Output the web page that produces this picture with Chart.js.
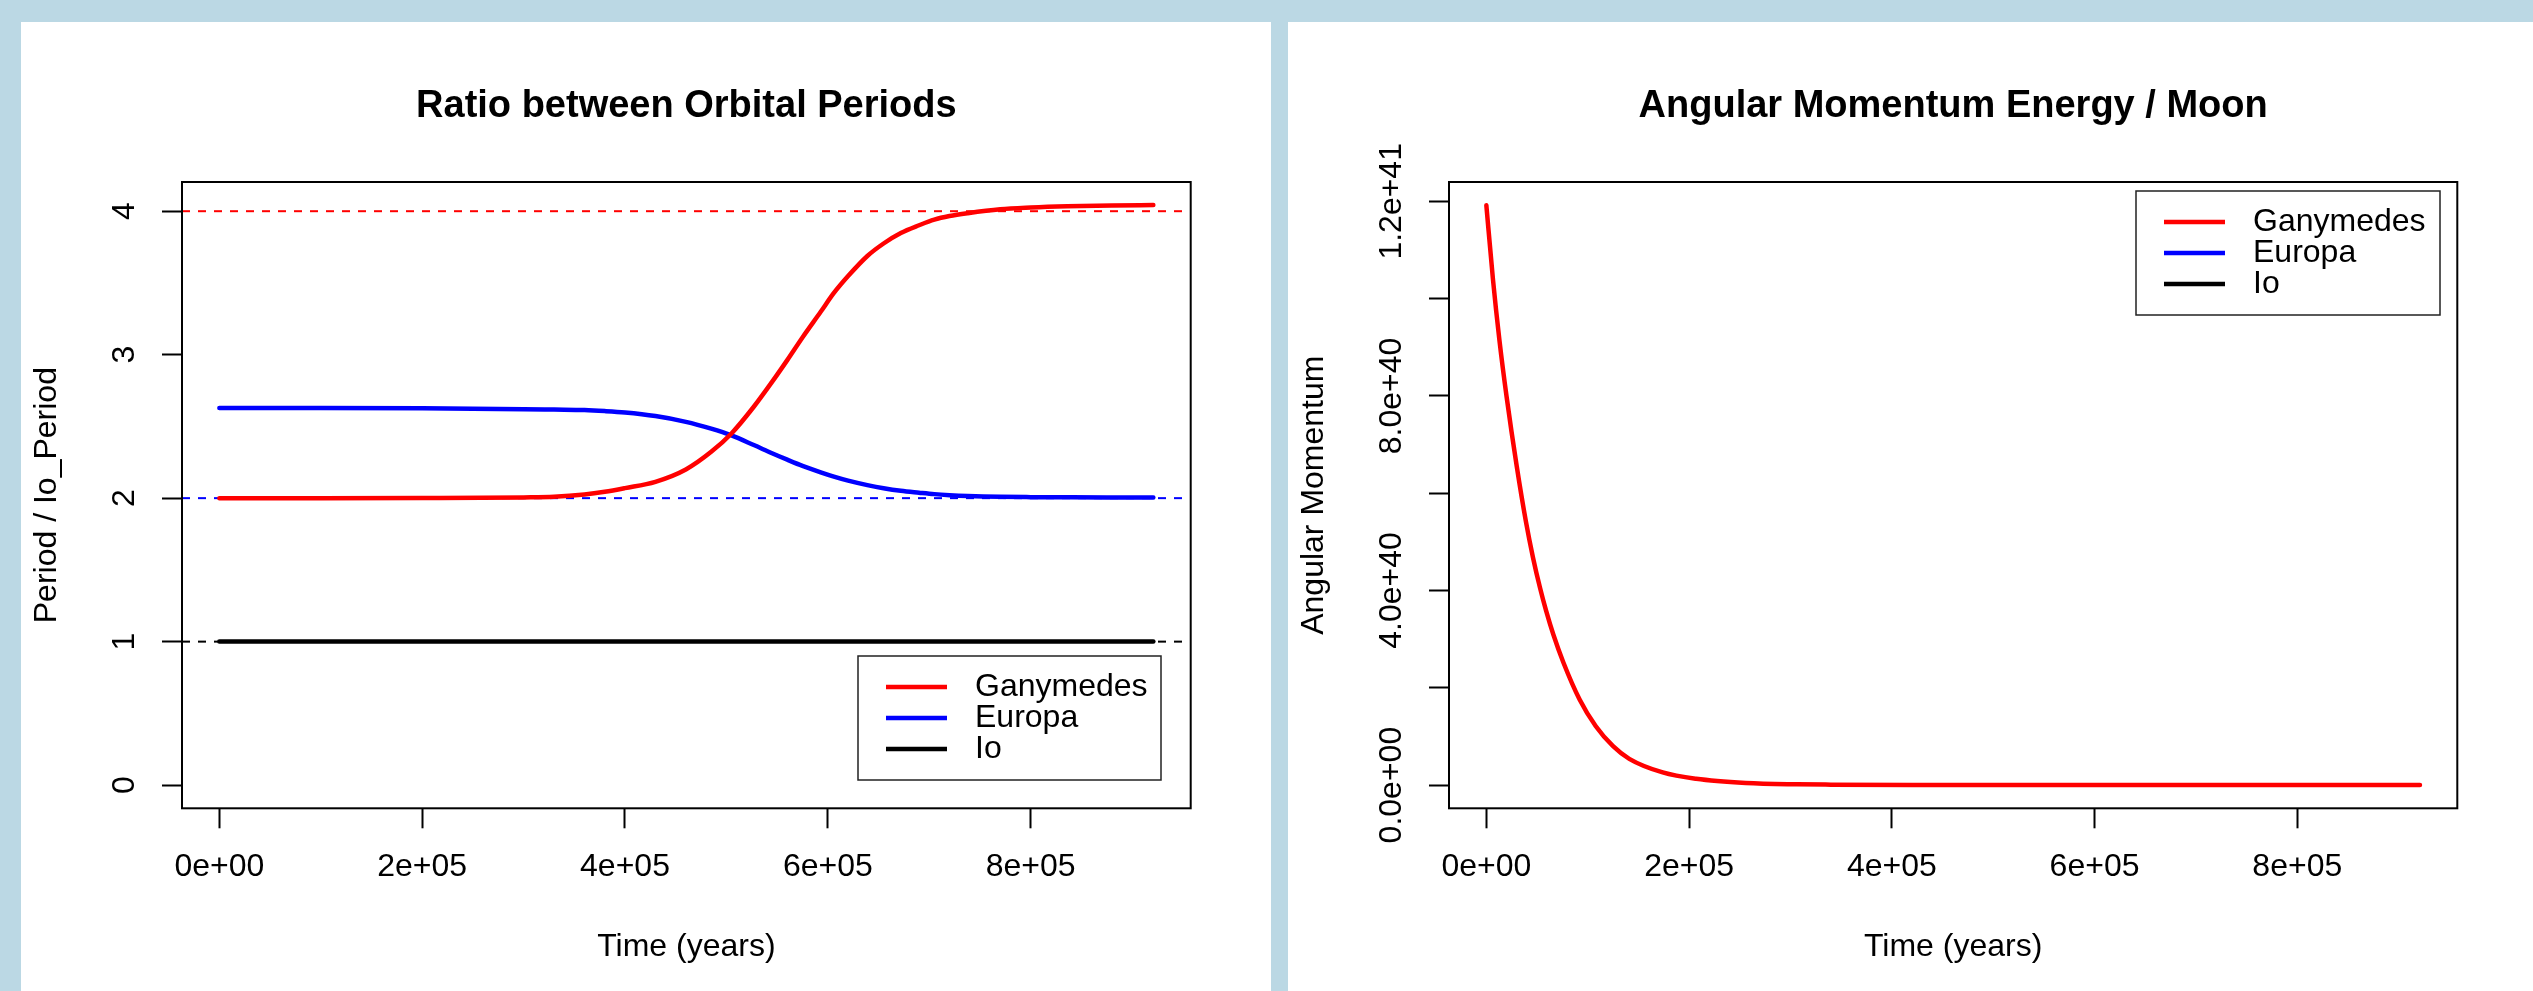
<!DOCTYPE html>
<html>
<head>
<meta charset="utf-8">
<title>Orbital periods</title>
<script src="https://cdn.jsdelivr.net/npm/chart.js@4.4.1/dist/chart.umd.min.js"></script>
<style>
  html, body { margin: 0; padding: 0; background: #bbd8e4; width: 2533px; height: 991px; overflow: hidden; }
  .panel { position: absolute; top: 22px; height: 969px; background: #fff; }
  #left { left: 21px; width: 1250px; }
  #right { left: 1288px; width: 1245px; }
  canvas { display: block; }
</style>
</head>
<body>
<div class="panel" id="left"><canvas id="ratioChart" width="1250" height="969"></canvas></div>
<div class="panel" id="right"><canvas id="momentumChart" width="1245" height="969"></canvas></div>
<script>
// moons, in legend order
const moonNames = ['Ganymedes', 'Europa', 'Io'];
const moonColors = ['#ff0000', '#0000ff', '#000000'];

// time axis (years)
const timeTicks = [0, 200000, 400000, 600000, 800000];
const timeTickLabels = ['0e+00', '2e+05', '4e+05', '6e+05', '8e+05'];

// period ratios relative to Io
const ratioTime = [0, 100000, 200000, 300000, 330000, 360000, 380000, 400000, 430000, 460000,
  485000, 505000, 527000, 545000, 560000, 575000, 593000, 606000, 620000, 639000,
  655000, 672000, 690000, 705000, 720000, 738000, 770000, 800000, 836000, 880000, 921000];
const ganymedeRatio = [2.000, 2.000, 2.001, 2.005, 2.009, 2.025, 2.044, 2.070, 2.114, 2.200,
  2.323, 2.451, 2.637, 2.810, 2.962, 3.120, 3.299, 3.430, 3.548, 3.688,
  3.775, 3.848, 3.902, 3.941, 3.966, 3.986, 4.013, 4.025, 4.034, 4.040, 4.043];
const europaRatio = [2.628, 2.628, 2.626, 2.620, 2.617, 2.614, 2.607, 2.597, 2.572, 2.532,
  2.484, 2.437, 2.370, 2.313, 2.268, 2.225, 2.180, 2.150, 2.122, 2.091,
  2.069, 2.051, 2.038, 2.028, 2.021, 2.015, 2.009, 2.007, 2.006, 2.005, 2.005];
const ioTime = [0, 921000];
const ioRatio = [1, 1];
const ratioTicks = [0, 1, 2, 3, 4];
const ratioTickLabels = ['0', '1', '2', '3', '4'];
// resonance levels 4:2:1
const ratioLevels = [4, 2, 1];

// angular momentum of Ganymedes
const momentumTime = [0, 6500, 13000, 20000, 30000, 39000, 46000, 53000, 59000, 66000,
  76000, 92000, 108000, 125000, 141000, 174000, 207000, 256000, 306000, 340000,
  420000, 500000, 600000, 700000, 800000, 921000];
const ganymedeMomentum = [1.192e41, 1.040e41, 9.13e40, 7.98e40, 6.55e40, 5.42e40, 4.68e40, 4.05e40, 3.58e40, 3.10e40,
  2.52e40, 1.76e40, 1.21e40, 8.0e39, 5.4e39, 2.6e39, 1.3e39, 4.5e38, 1.6e38, 9.0e37,
  3e37, 1e37, 5e36, 2e36, 1e36, 5e35];
const momentumTicks = [0, 2e40, 4e40, 6e40, 8e40, 1e41, 1.2e41];
const momentumTickLabels = ['0.0e+00', '', '4.0e+40', '', '8.0e+40', '', '1.2e+41'];

const FONT = '"Liberation Sans", Arial, Helvetica, sans-serif';

const toPoints = (xs, ys) => xs.map((x, i) => ({ x: x, y: ys[i] }));

const lineSet = (label, color, xs, ys) => ({
    label: label,
    data: toPoints(xs, ys),
    borderColor: color,
    borderWidth: 4.5,
    pointRadius: 0,
    fill: false,
    cubicInterpolationMode: 'monotone',
    borderCapStyle: 'round',
    borderJoinStyle: 'round'
});

// dashed horizontal guides drawn under the curves
const levelLines = {
    id: 'levelLines',
    beforeDatasetsDraw(chart, args, opts) {
        if (!opts.levels) return;
        const { ctx, chartArea: a, scales: { y } } = chart;
        ctx.save();
        ctx.lineWidth = 2;
        ctx.setLineDash([8, 8]);
        opts.levels.forEach((v, i) => {
            const py = y.getPixelForValue(v);
            ctx.strokeStyle = opts.colors[i];
            ctx.beginPath();
            ctx.moveTo(a.left, py);
            ctx.lineTo(a.right, py);
            ctx.stroke();
        });
        ctx.restore();
    }
};

// box, titles, rotated y labels and legend in base-graphics style
const plotFrame = {
    id: 'plotFrame',
    afterDraw(chart, args, opts) {
        const { ctx, chartArea: a, scales: { y } } = chart;
        ctx.save();
        ctx.strokeStyle = '#000';
        ctx.lineWidth = 2;
        ctx.strokeRect(a.left, a.top, a.right - a.left, a.bottom - a.top);

        ctx.fillStyle = '#000';
        ctx.textAlign = 'center';
        ctx.textBaseline = 'alphabetic';
        const cx = (a.left + a.right) / 2;
        ctx.font = 'bold 38px ' + FONT;
        ctx.fillText(opts.title, cx, a.top - 65);
        ctx.font = '32px ' + FONT;
        ctx.fillText(opts.xTitle, cx, a.bottom + 148);

        ctx.save();
        ctx.translate(a.left - 126, (a.top + a.bottom) / 2);
        ctx.rotate(-Math.PI / 2);
        ctx.fillText(opts.yTitle, 0, 0);
        ctx.restore();

        ctx.textBaseline = 'middle';
        y.ticks.forEach((t, i) => {
            const label = opts.yLabels[i];
            if (!label) return;
            ctx.save();
            ctx.translate(a.left - 57, y.getPixelForValue(t.value));
            ctx.rotate(-Math.PI / 2);
            ctx.fillText(label, 0, 0);
            ctx.restore();
        });

        const lg = opts.legend;
        ctx.lineWidth = 1.5;
        ctx.strokeStyle = '#222';
        ctx.strokeRect(lg.x, lg.y, lg.w, lg.h);
        ctx.textAlign = 'left';
        moonNames.forEach((name, i) => {
            const ry = lg.y + 31 + i * 31;
            ctx.strokeStyle = moonColors[i];
            ctx.lineWidth = 4.5;
            ctx.beginPath();
            ctx.moveTo(lg.x + 28, ry);
            ctx.lineTo(lg.x + 89, ry);
            ctx.stroke();
            ctx.fillText(name, lg.x + 117, ry);
        });
        ctx.restore();
    }
};

const timeScale = () => ({
    type: 'linear',
    min: -36840,
    max: 957840,
    afterBuildTicks: s => { s.ticks = timeTicks.map(v => ({ value: v })); },
    afterFit: s => { s.height = 182.7; },
    border: { display: false },
    grid: { drawOnChartArea: false, drawTicks: true, tickLength: 20, tickWidth: 2, tickColor: '#000' },
    ticks: {
        color: '#000',
        font: { family: FONT, size: 32 },
        padding: 20,
        maxRotation: 0,
        autoSkip: false,
        callback: (v, i) => timeTickLabels[i]
    }
});

const valueScale = (min, max, ticks) => ({
    type: 'linear',
    min: min,
    max: max,
    afterBuildTicks: s => { s.ticks = ticks.map(v => ({ value: v })); },
    afterFit: s => { s.width = 161; },
    border: { display: false },
    grid: { drawOnChartArea: false, drawTicks: true, tickLength: 20, tickWidth: 2, tickColor: '#000' },
    ticks: { display: false }
});

const createPanel = (canvas, datasets, yScale, frame, levels, rightPad) => new Chart(canvas, {
    type: 'line',
    data: { datasets: datasets },
    options: {
        responsive: false,
        animation: false,
        events: [],
        layout: { padding: { top: 160, right: rightPad, left: 0, bottom: 0 } },
        scales: { x: timeScale(), y: yScale },
        plugins: {
            legend: { display: false },
            title: { display: false },
            tooltip: { enabled: false },
            levelLines: levels,
            plotFrame: frame
        }
    },
    plugins: [levelLines, plotFrame]
});

createPanel(
    document.getElementById('ratioChart'),
    [
        lineSet(moonNames[0], moonColors[0], ratioTime, ganymedeRatio),
        lineSet(moonNames[1], moonColors[1], ratioTime, europaRatio),
        lineSet(moonNames[2], moonColors[2], ioTime, ioRatio)
    ],
    valueScale(-0.1617, 4.2035, ratioTicks),
    {
        title: 'Ratio between Orbital Periods',
        xTitle: 'Time (years)',
        yTitle: 'Period / Io_Period',
        yLabels: ratioTickLabels,
        legend: { x: 837, y: 634, w: 303, h: 124 }
    },
    { levels: ratioLevels, colors: moonColors },
    80.3
);

createPanel(
    document.getElementById('momentumChart'),
    [lineSet(moonNames[0], moonColors[0], momentumTime, ganymedeMomentum)],
    valueScale(-4.77e39, 1.2397e41, momentumTicks),
    {
        title: 'Angular Momentum Energy / Moon',
        xTitle: 'Time (years)',
        yTitle: 'Angular Momentum',
        yLabels: momentumTickLabels,
        legend: { x: 848, y: 169, w: 304, h: 124 }
    },
    {},
    75.7
);
</script>
</body>
</html>
